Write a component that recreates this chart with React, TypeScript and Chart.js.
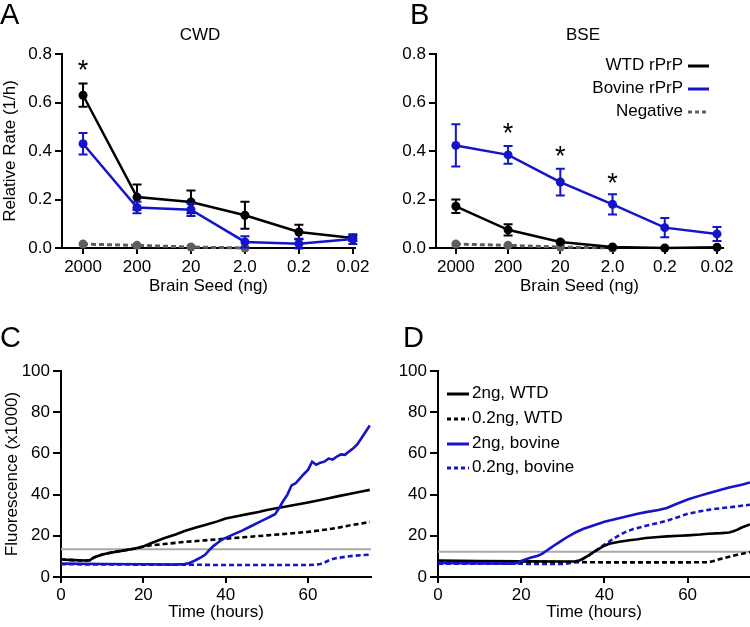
import React, { useEffect, useRef } from "react";
import { Chart, registerables } from "chart.js";
Chart.register(...registerables);

const FONT = "'Liberation Sans', Arial, Helvetica, sans-serif";
const BLACK = "#000000";
const BLUE = "#1414c8";
const GRAY = "#5f5f5f";
const THRESH = "#a8a8a8";

// ---------- Panels A & B : relative rate vs brain seed ----------
const seedLabels = ["2000", "200", "20", "2.0", "0.2", "0.02"];
const rateTicks = [0, 0.2, 0.4, 0.6, 0.8];

const cwdWtd = [0.63, 0.21, 0.19, 0.135, 0.066, 0.041];
const cwdWtdErr = [0.048, 0.052, 0.047, 0.056, 0.03, 0.012];
const cwdBov = [0.43, 0.167, 0.158, 0.025, 0.018, 0.037];
const cwdBovErr = [0.044, 0.024, 0.026, 0.023, 0.02, 0.02];
const cwdNeg = [0.016, 0.011, 0.004, 0.0];
const cwdStarIdx = [0];
const cwdStarVal = [0.755];

const bseWtd = [0.172, 0.075, 0.025, 0.004, 0.0, 0.003];
const bseWtdErr = [0.028, 0.023, 0.005, 0.002, 0, 0];
const bseBov = [0.423, 0.384, 0.272, 0.18, 0.084, 0.058];
const bseBovErr = [0.087, 0.037, 0.055, 0.042, 0.04, 0.029];
const bseNeg = [0.016, 0.011, 0.004, 0.0];
const bseStarIdx = [1, 2, 3];
const bseStarVal = [0.495, 0.4, 0.29];

// ---------- Panels C & D : fluorescence vs time ----------
const timeTicks = [0, 20, 40, 60];
const fluorTicks = [0, 20, 40, 60, 80, 100];

const cThreshold = 13.5;
const cTimeWtd2 = [0, 3, 6, 7, 8, 10, 12, 15, 18, 20, 22, 25, 28, 30, 33, 35, 38, 40, 43, 45, 48, 50, 53, 55, 58, 60, 63, 65, 68, 70, 73, 75];
const cWtd2 = [8.5, 8.2, 8.0, 8.1, 9.5, 10.9, 11.8, 12.8, 13.8, 14.8, 16.5, 18.8, 20.8, 22.3, 24.1, 25.3, 27.0, 28.4, 29.6, 30.4, 31.6, 32.5, 33.6, 34.3, 35.4, 36.2, 37.4, 38.2, 39.5, 40.3, 41.5, 42.3];
const cTimeWtd02 = [0, 3, 6, 7, 8, 10, 12, 15, 18, 20, 22, 25, 28, 30, 35, 40, 45, 50, 55, 60, 65, 68, 70, 73, 75];
const cWtd02 = [8.5, 8.2, 8.0, 8.1, 9.5, 10.9, 11.8, 12.8, 13.8, 14.8, 15.4, 16.0, 16.6, 17.0, 17.8, 18.6, 19.4, 20.2, 21.0, 21.9, 23.2, 24.2, 25.0, 26.0, 26.7];
const cTimeBov2 = [0, 10, 20, 28, 30, 31, 32, 33, 34, 35, 36, 37, 38, 39, 40, 42, 44, 46, 48, 50, 51, 52, 53, 54, 55, 56, 57, 58, 59, 60, 61, 62, 63, 64, 65, 66, 67, 68, 69, 70, 71, 72, 73, 74, 75];
const cBov2 = [6.5, 6.3, 6.2, 6.0, 6.3, 6.6, 7.5, 8.5, 9.5, 10.8, 13.0, 15.0, 16.5, 18.0, 19.0, 20.8, 22.5, 24.5, 26.5, 28.5, 29.5, 30.5, 33.5, 37.0, 40.0, 44.5, 45.5, 47.8, 50.0, 52.0, 56.0, 54.5, 55.5, 56.0, 57.5, 57.0, 58.5, 59.5, 59.3, 61.0, 62.5, 64.5, 67.5, 70.5, 73.5];
const cTimeBov02 = [0, 10, 20, 30, 40, 50, 60, 62, 63, 64, 65, 66, 67, 69, 71, 73, 75];
const cBov02 = [6.2, 6.1, 6.0, 6.0, 5.8, 5.8, 5.8, 6.0, 6.3, 7.0, 8.0, 8.7, 9.2, 9.8, 10.3, 10.6, 10.8];

const dThreshold = 12.3;
const dTimeWtd2 = [0, 10, 20, 30, 33, 34, 35, 36, 37, 38, 39, 40, 41, 42, 44, 46, 48, 50, 53, 55, 58, 60, 63, 65, 68, 70, 71, 72, 73, 75];
const dWtd2 = [8.0, 7.8, 7.6, 7.5, 7.6, 8.0, 9.0, 10.2, 11.6, 12.8, 14.0, 15.2, 16.0, 16.5, 17.2, 17.8, 18.3, 18.9, 19.4, 19.7, 20.0, 20.2, 20.6, 21.0, 21.3, 21.6, 22.2, 23.0, 24.0, 25.5];
const dTimeWtd02 = [0, 20, 35, 40, 50, 60, 65, 66, 67, 68, 70, 72, 74, 75];
const dWtd02 = [7.6, 7.4, 7.2, 7.1, 7.1, 7.1, 7.2, 7.6, 8.2, 8.8, 9.8, 10.8, 11.7, 12.1];
const dTimeBov2 = [0, 10, 18, 19, 20, 21, 22, 24, 25, 26, 27, 28, 29, 30, 31, 32, 33, 35, 37, 40, 42, 45, 48, 50, 53, 55, 57, 60, 63, 65, 68, 70, 73, 75];
const dBov2 = [6.8, 6.6, 6.5, 6.8, 7.8, 8.5, 9.2, 10.3, 11.2, 12.6, 14.0, 15.4, 16.7, 18.0, 19.3, 20.5, 21.6, 23.4, 24.8, 26.8, 27.8, 29.3, 30.7, 31.5, 32.5, 33.5, 35.2, 37.6, 39.5, 40.7, 42.3, 43.4, 44.8, 45.9];
const dTimeBov02 = [0, 20, 30, 32, 33, 34, 35, 36, 37, 38, 39, 40, 41, 42, 43, 45, 47, 50, 53, 55, 58, 60, 63, 65, 68, 70, 73, 75];
const dBov02 = [6.5, 6.4, 6.3, 6.8, 7.3, 8.0, 9.0, 10.0, 11.5, 12.9, 14.3, 15.7, 17.0, 18.4, 19.6, 21.8, 23.3, 24.9, 26.3, 27.3, 29.3, 30.7, 31.9, 32.6, 33.4, 33.8, 34.6, 35.1];

// ---------- helpers ----------
const idxXY = (vals: number[]) => vals.map((y, i) => ({ x: i, y }));
const pairXY = (xs: number[], ys: number[]) => xs.map((x, i) => ({ x, y: ys[i] }));

const errorBarPlugin = {
  id: "errorBars",
  afterDatasetDraw(chart: any, args: any) {
    const ds: any = chart.data.datasets[args.index];
    if (!ds.errors) return;
    const ys = chart.scales.y;
    const ctx = chart.ctx;
    ctx.save();
    ctx.strokeStyle = ds.borderColor;
    ctx.lineWidth = 2;
    args.meta.data.forEach((pt: any, i: number) => {
      const e = ds.errors[i];
      if (!e) return;
      const v = ds.data[i].y;
      const top = ys.getPixelForValue(v + e);
      const bot = ys.getPixelForValue(v - e);
      const x = pt.x;
      ctx.beginPath();
      ctx.moveTo(x, top);
      ctx.lineTo(x, bot);
      ctx.moveTo(x - 4.5, top);
      ctx.lineTo(x + 4.5, top);
      ctx.moveTo(x - 4.5, bot);
      ctx.lineTo(x + 4.5, bot);
      ctx.stroke();
    });
    ctx.restore();
  },
};

function makeStarPlugin(idx: number[], vals: number[]) {
  return {
    id: "stars",
    afterDatasetsDraw(chart: any) {
      const ctx = chart.ctx;
      ctx.save();
      ctx.font = `27px ${FONT}`;
      ctx.fillStyle = BLACK;
      ctx.textAlign = "center";
      ctx.textBaseline = "alphabetic";
      const m = ctx.measureText("*");
      const off = (m.actualBoundingBoxDescent - m.actualBoundingBoxAscent) / 2;
      idx.forEach((i, k) => {
        const x = chart.scales.x.getPixelForValue(i);
        const y = chart.scales.y.getPixelForValue(vals[k]);
        ctx.fillText("*", x, y - off);
      });
      ctx.restore();
    },
  };
}

type TextItem = { text: string; x: number; y: number; size: number; align?: CanvasTextAlign };
function makeTextPlugin(items: TextItem[]) {
  return {
    id: "panelText",
    afterDraw(chart: any) {
      const ctx = chart.ctx;
      ctx.save();
      ctx.fillStyle = BLACK;
      ctx.textBaseline = "alphabetic";
      items.forEach((it) => {
        ctx.font = `${it.size}px ${FONT}`;
        ctx.textAlign = it.align || "left";
        ctx.fillText(it.text, it.x, it.y);
      });
      ctx.restore();
    },
  };
}

type LegendSpec = { indices: number[]; rows: number[]; align: "left" | "right"; textX: number; lineX0: number; lineX1: number };
function makeLegendPlugin(spec: LegendSpec) {
  return {
    id: "lineLegend",
    afterDraw(chart: any) {
      const ctx = chart.ctx;
      ctx.save();
      ctx.font = `17px ${FONT}`;
      ctx.textBaseline = "middle";
      spec.indices.forEach((di, r) => {
        const ds: any = chart.data.datasets[di];
        const y = spec.rows[r];
        ctx.fillStyle = BLACK;
        ctx.textAlign = spec.align;
        ctx.fillText(ds.label, spec.textX, y);
        ctx.strokeStyle = ds.borderColor;
        ctx.lineWidth = 3;
        ctx.setLineDash(ds.borderDash ? [4, 3] : []);
        ctx.beginPath();
        ctx.moveTo(spec.lineX0, y + 1);
        ctx.lineTo(spec.lineX1, y + 1);
        ctx.stroke();
      });
      ctx.restore();
    },
  };
}

const axisGrid = (len: number) => ({
  display: true,
  drawOnChartArea: false,
  drawTicks: true,
  tickLength: len,
  color: BLACK,
  tickColor: BLACK,
  lineWidth: 2,
});
const axisBorder = { display: true, color: BLACK, width: 2 };
const tickFont = { family: FONT, size: 17 };

type BrainSpec = {
  wtd: number[]; wtdErr: number[]; bov: number[]; bovErr: number[]; neg: number[];
  starIdx: number[]; starVal: number[];
  xMin: number; xMax: number; yW: number; padRight: number;
  yTitle: string | null; texts: TextItem[]; legend: LegendSpec | null;
};

function brainConfig(p: BrainSpec): any {
  const lineDs = (label: string, data: any, color: string, extra: any = {}) => ({
    label, data, borderColor: color, backgroundColor: color, pointBackgroundColor: color,
    pointBorderWidth: 0, pointRadius: 4.5, borderWidth: 2.5, clip: false, ...extra,
  });
  const plugins: any[] = [errorBarPlugin, makeStarPlugin(p.starIdx, p.starVal), makeTextPlugin(p.texts)];
  if (p.legend) plugins.push(makeLegendPlugin(p.legend));
  return {
    type: "line",
    data: {
      datasets: [
        lineDs("Bovine rPrP", idxXY(p.bov), BLUE, { errors: p.bovErr }),
        lineDs("WTD rPrP", idxXY(p.wtd), BLACK, { errors: p.wtdErr }),
        lineDs("Negative", idxXY(p.neg), GRAY, { borderDash: [5, 3], borderWidth: 3 }),
      ],
    },
    options: {
      responsive: false,
      animation: false,
      devicePixelRatio: 1,
      layout: { padding: { top: 54, right: p.padRight, left: 0, bottom: 0 } },
      plugins: { legend: { display: false }, tooltip: { enabled: false }, title: { display: false } },
      scales: {
        x: {
          type: "linear",
          min: p.xMin,
          max: p.xMax,
          afterBuildTicks: (s: any) => { s.ticks = seedLabels.map((_, i) => ({ value: i })); },
          afterFit: (s: any) => { s.height = 52; },
          ticks: { callback: (v: any) => seedLabels[v], font: tickFont, color: BLACK, padding: 3, maxRotation: 0, autoSkip: false },
          grid: axisGrid(6),
          border: axisBorder,
          title: { display: true, text: "Brain Seed (ng)", font: tickFont, color: BLACK, padding: { top: 0, bottom: 3 } },
        },
        y: {
          type: "linear",
          min: 0,
          max: 0.8,
          afterBuildTicks: (s: any) => { s.ticks = rateTicks.map((v) => ({ value: v })); },
          afterFit: (s: any) => { s.width = p.yW; },
          ticks: { callback: (v: any) => Number(v).toFixed(1), font: tickFont, color: BLACK, padding: 3 },
          grid: axisGrid(7),
          border: axisBorder,
          title: { display: !!p.yTitle, text: p.yTitle || "", font: tickFont, color: BLACK, padding: { top: 0, bottom: 0 } },
        },
      },
    },
    plugins,
  };
}

type TimeSpec = {
  series: { label: string; t: number[]; v: number[]; color: string; dashed: boolean }[];
  threshold: number; xMax: number; yW: number; padRight: number; yTitle: string | null;
  texts: TextItem[]; legend: LegendSpec | null;
};

function timeConfig(p: TimeSpec): any {
  const datasets: any[] = p.series.map((s) => ({
    label: s.label,
    data: pairXY(s.t, s.v),
    borderColor: s.color,
    backgroundColor: s.color,
    borderWidth: 2.6,
    borderDash: s.dashed ? [5, 3] : undefined,
    pointRadius: 0,
    tension: 0,
    clip: false,
  }));
  datasets.push({
    label: "threshold",
    data: [{ x: 0, y: p.threshold }, { x: p.xMax, y: p.threshold }],
    borderColor: THRESH,
    borderWidth: 2,
    pointRadius: 0,
    clip: false,
  });
  const plugins: any[] = [makeTextPlugin(p.texts)];
  if (p.legend) plugins.push(makeLegendPlugin(p.legend));
  return {
    type: "line",
    data: { datasets },
    options: {
      responsive: false,
      animation: false,
      devicePixelRatio: 1,
      layout: { padding: { top: 71, right: p.padRight, left: 0, bottom: 0 } },
      plugins: { legend: { display: false }, tooltip: { enabled: false }, title: { display: false } },
      scales: {
        x: {
          type: "linear",
          min: 0,
          max: p.xMax,
          afterBuildTicks: (s: any) => { s.ticks = timeTicks.map((v) => ({ value: v })); },
          afterFit: (s: any) => { s.height = 50; },
          ticks: { font: tickFont, color: BLACK, padding: 2, maxRotation: 0, autoSkip: false },
          grid: axisGrid(6),
          border: axisBorder,
          title: { display: true, text: "Time (hours)", font: tickFont, color: BLACK, padding: { top: 0, bottom: 4 } },
        },
        y: {
          type: "linear",
          min: 0,
          max: 100,
          afterBuildTicks: (s: any) => { s.ticks = fluorTicks.map((v) => ({ value: v })); },
          afterFit: (s: any) => { s.width = p.yW; },
          ticks: { font: tickFont, color: BLACK, padding: 3 },
          grid: axisGrid(8),
          border: axisBorder,
          title: { display: !!p.yTitle, text: p.yTitle || "", font: tickFont, color: BLACK, padding: { top: 2, bottom: 0 } },
        },
      },
    },
    plugins,
  };
}

function Panel({ left, top, width, height, make }: { left: number; top: number; width: number; height: number; make: () => any }) {
  const ref = useRef<HTMLCanvasElement>(null);
  useEffect(() => {
    const chart = new Chart(ref.current as HTMLCanvasElement, make());
    return () => chart.destroy();
  }, []);
  return (
    <canvas
      ref={ref}
      width={width}
      height={height}
      style={{ position: "absolute", left, top, width, height, display: "block" }}
    />
  );
}

export default function App() {
  return (
    <div style={{ position: "absolute", left: 0, top: 0, width: 750, height: 627, background: "#fff", overflow: "hidden" }}>
      <Panel
        left={0} top={0} width={375} height={300}
        make={() =>
          brainConfig({
            wtd: cwdWtd, wtdErr: cwdWtdErr, bov: cwdBov, bovErr: cwdBovErr, neg: cwdNeg,
            starIdx: cwdStarIdx, starVal: cwdStarVal,
            xMin: -0.39, xMax: 5.04, yW: 62, padRight: 20,
            yTitle: "Relative Rate (1/h)",
            texts: [
              { text: "A", x: 0, y: 24, size: 29 },
              { text: "CWD", x: 200, y: 40, size: 17, align: "center" },
            ],
            legend: null,
          })
        }
      />
      <Panel
        left={375} top={0} width={375} height={300}
        make={() =>
          brainConfig({
            wtd: bseWtd, wtdErr: bseWtdErr, bov: bseBov, bovErr: bseBovErr, neg: bseNeg,
            starIdx: bseStarIdx, starVal: bseStarVal,
            xMin: -0.38, xMax: 5.115, yW: 61, padRight: 27,
            yTitle: null,
            texts: [
              { text: "B", x: 35, y: 24, size: 29 },
              { text: "BSE", x: 208, y: 40, size: 17, align: "center" },
            ],
            legend: { indices: [1, 0, 2], rows: [65, 88, 111], align: "right", textX: 308, lineX0: 313, lineX1: 334 },
          })
        }
      />
      <Panel
        left={0} top={300} width={375} height={327}
        make={() =>
          timeConfig({
            series: [
              { label: "2ng, bovine", t: cTimeBov2, v: cBov2, color: BLUE, dashed: false },
              { label: "2ng, WTD", t: cTimeWtd2, v: cWtd2, color: BLACK, dashed: false },
              { label: "0.2ng, bovine", t: cTimeBov02, v: cBov02, color: BLUE, dashed: true },
              { label: "0.2ng, WTD", t: cTimeWtd02, v: cWtd02, color: BLACK, dashed: true },
            ],
            threshold: cThreshold, xMax: 75.3, yW: 61, padRight: 4,
            yTitle: "Fluorescence (x1000)",
            texts: [{ text: "C", x: 0, y: 47, size: 29 }],
            legend: null,
          })
        }
      />
      <Panel
        left={375} top={300} width={375} height={327}
        make={() =>
          timeConfig({
            series: [
              { label: "2ng, bovine", t: dTimeBov2, v: dBov2, color: BLUE, dashed: false },
              { label: "2ng, WTD", t: dTimeWtd2, v: dWtd2, color: BLACK, dashed: false },
              { label: "0.2ng, bovine", t: dTimeBov02, v: dBov02, color: BLUE, dashed: true },
              { label: "0.2ng, WTD", t: dTimeWtd02, v: dWtd02, color: BLACK, dashed: true },
            ],
            threshold: dThreshold, xMax: 75, yW: 63, padRight: 0,
            yTitle: null,
            texts: [{ text: "D", x: 28, y: 47, size: 29 }],
            legend: { indices: [1, 3, 0, 2], rows: [93, 118, 143, 167], align: "left", textX: 97, lineX0: 72, lineX1: 94 },
          })
        }
      />
    </div>
  );
}
